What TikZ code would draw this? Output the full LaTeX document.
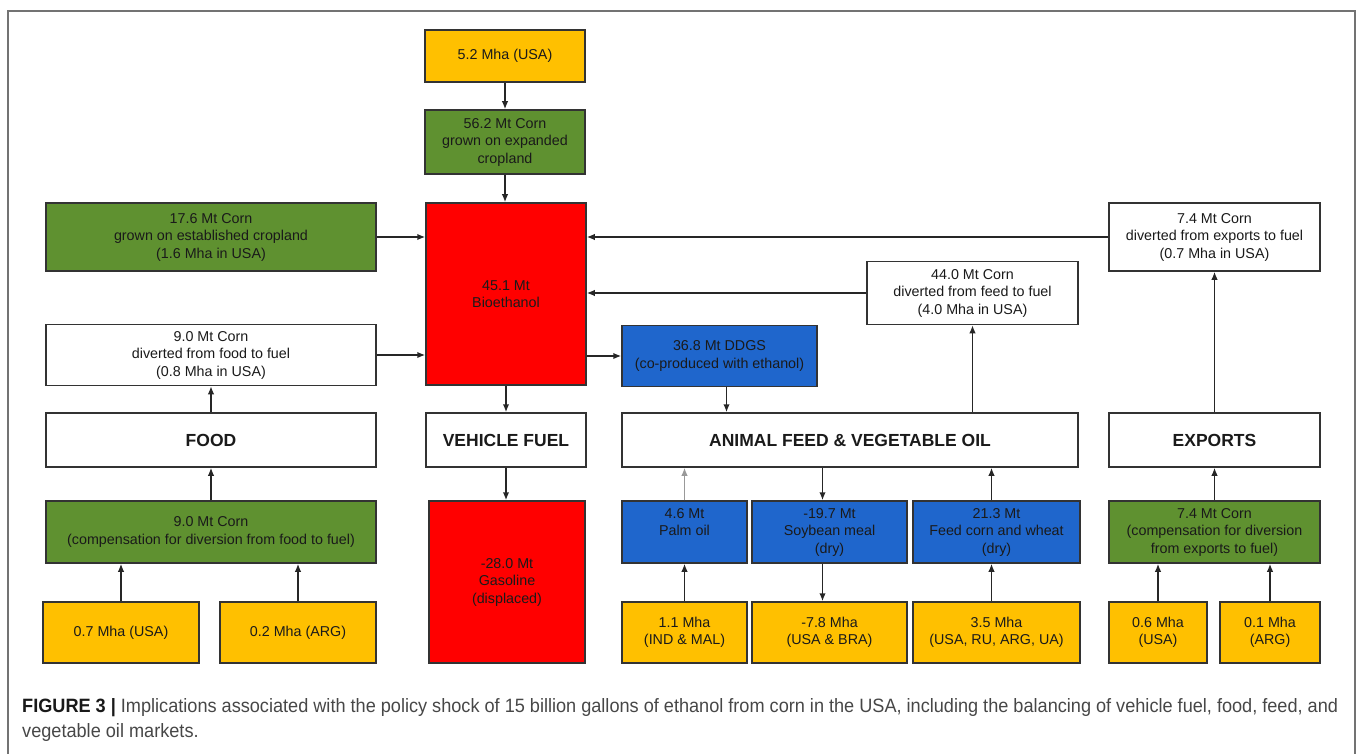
\documentclass[tikz,border=0pt]{standalone}
\usepackage{fontspec}
\setmainfont{Liberation Sans}
\newfontfamily\capfont[FakeStretch=0.94]{Liberation Sans}
\usetikzlibrary{arrows.meta}
\definecolor{ylw}{HTML}{FFC000}
\definecolor{grn}{HTML}{5F9130}
\definecolor{rd}{HTML}{FF0000}
\definecolor{blu}{HTML}{1F66CC}
\definecolor{txt}{HTML}{1A1A1A}

\begin{document}
\begin{tikzpicture}[x=1pt,y=-1pt,
	bx/.style={draw=black!80, line width=1.5pt, align=center, inner sep=0pt, text=txt,
		font=\fontsize{14.3}{17.5}\selectfont},
	sz/.style 2 args={minimum width=#1pt, minimum height=#2pt},
	ttl/.style={bx, fill=white, font=\fontsize{17.5}{20}\selectfont\bfseries},
	arr/.style={-{Latex[length=8pt,width=6.5pt]}, line width=1.5pt, black!85}]

	\useasboundingbox (0,0) rectangle (1360,754);
	\draw[black!55, line width=1.3pt] (8,754) |- (1355,11) -- (1355,754);

	% top and centre column
	\node[bx, fill=ylw, sz={160}{52}] (m52) at (505,56) {5.2 Mha (USA)};
	\node[bx, fill=grn, sz={160}{64}] (c562) at (505,142) {56.2 Mt Corn\\grown on expanded\\cropland};
	\node[bx, fill=rd, sz={160}{182}] (eth) at (506,294) {45.1 Mt\\Bioethanol};
	\node[ttl, sz={160}{54}] (vf) at (506,440) {VEHICLE FUEL};
	\node[bx, fill=rd, sz={156}{162}] (gas) at (507,582) {-28.0 Mt\\Gasoline\\(displaced)};

	% food
	\node[bx, fill=grn, sz={330}{68}] (c176) at (211,237) {17.6 Mt Corn\\grown on established cropland\\(1.6 Mha in USA)};
	\node[bx, fill=white, sz={330}{61}] (c90d) at (211,355) {9.0 Mt Corn\\diverted from food to fuel\\(0.8 Mha in USA)};
	\node[ttl, sz={330}{54}] (food) at (211,440) {FOOD};
	\node[bx, fill=grn, sz={330}{62}] (c90c) at (211,532) {9.0 Mt Corn\\(compensation for diversion from food to fuel)};
	\node[bx, fill=ylw, sz={156}{61}] (m07) at (121,632.5) {0.7 Mha (USA)};
	\node[bx, fill=ylw, sz={156}{61}] (m02) at (298,632.5) {0.2 Mha (ARG)};

	% feed and oil
	\node[bx, fill=blu, sz={195}{61}] (ddgs) at (719.5,356) {36.8 Mt DDGS\\(co-produced with ethanol)};
	\node[bx, fill=white, sz={211}{63}] (c440) at (972.5,293) {44.0 Mt Corn\\diverted from feed to fuel\\(4.0 Mha in USA)};
	\node[ttl, sz={456}{54}] (feed) at (850,440) {ANIMAL FEED \& VEGETABLE OIL};
	\node[bx, fill=blu, sz={125}{62}] (palm) at (684.5,532) {4.6 Mt\\Palm oil\\\phantom{(dry)}};
	\node[bx, fill=blu, sz={155}{62}] (soy) at (829.5,532) {-19.7 Mt\\Soybean meal\\(dry)};
	\node[bx, fill=blu, sz={167}{62}] (fcw) at (996.5,532) {21.3 Mt\\Feed corn and wheat\\(dry)};
	\node[bx, fill=ylw, sz={125}{61}] (m11) at (684.5,632.5) {1.1 Mha\\(IND \& MAL)};
	\node[bx, fill=ylw, sz={155}{61}] (m78) at (829.5,632.5) {-7.8 Mha\\(USA \& BRA)};
	\node[bx, fill=ylw, sz={167}{61}] (m35) at (996.5,632.5) {3.5 Mha\\(USA, RU, ARG, UA)};

	% exports
	\node[bx, fill=white, sz={211}{68}] (c74d) at (1214.5,237) {7.4 Mt Corn\\diverted from exports to fuel\\(0.7 Mha in USA)};
	\node[ttl, sz={211}{54}] (exp) at (1214.5,440) {EXPORTS};
	\node[bx, fill=grn, sz={211}{62}] (c74c) at (1214.5,532) {7.4 Mt Corn\\(compensation for diversion\\from exports to fuel)};
	\node[bx, fill=ylw, sz={98}{61}] (m06) at (1158,632.5) {0.6 Mha\\(USA)};
	\node[bx, fill=ylw, sz={100}{61}] (m01) at (1270,632.5) {0.1 Mha\\(ARG)};

	\coordinate (dx) at ([xshift=7pt]ddgs.south);
	\coordinate (sx) at ([xshift=-7pt]soy.north);
	\coordinate (fx) at ([xshift=-5pt]fcw.north);

	\draw[arr] (m52) -- (c562);
	\draw[arr] (c562) -- (c562 |- eth.north);
	\draw[arr] (c176) -- (c176 -| eth.west);
	\draw[arr] (c90d) -- (c90d -| eth.west);
	\draw[arr] (c74d) -- (c74d -| eth.east);
	\draw[arr] (c440) -- (c440 -| eth.east);
	\draw[arr] (ddgs -| eth.east) -- (ddgs);
	\draw[arr] (eth) -- (vf);
	\draw[arr] (vf) -- (vf |- gas.north);

	\draw[arr] (food) -- (c90d);
	\draw[arr] (c90c) -- (food);
	\draw[arr] (m07) -- (m07 |- c90c.south);
	\draw[arr] (m02) -- (m02 |- c90c.south);

	\draw[arr] (dx) -- (dx |- feed.north);
	\draw[arr] (c440 |- feed.north) -- (c440);
	\draw[arr, black!40] (palm) -- (palm |- feed.south);
	\draw[arr] (sx |- feed.south) -- (sx);
	\draw[arr] (fx) -- (fx |- feed.south);
	\draw[arr] (m11) -- (palm);
	\draw[arr] (sx |- soy.south) -- (sx |- m78.north);
	\draw[arr] (fx |- m35.north) -- (fx |- fcw.south);

	\draw[arr] (exp) -- (c74d);
	\draw[arr] (c74c) -- (exp);
	\draw[arr] (m06) -- (m06 |- c74c.south);
	\draw[arr] (m01) -- (m01 |- c74c.south);

	\node[anchor=north west, text width=1316pt, align=justify, inner sep=0pt, text=black!72,
		font=\capfont\fontsize{19.3}{25}\selectfont] (cap) at (22,698)
		{\textcolor{black!90}{\bfseries FIGURE 3 |} Implications associated with the policy shock of 15 billion gallons of ethanol from corn in the USA, including the balancing of vehicle fuel, food, feed, and\linebreak vegetable oil markets.};
\end{tikzpicture}
\end{document}
